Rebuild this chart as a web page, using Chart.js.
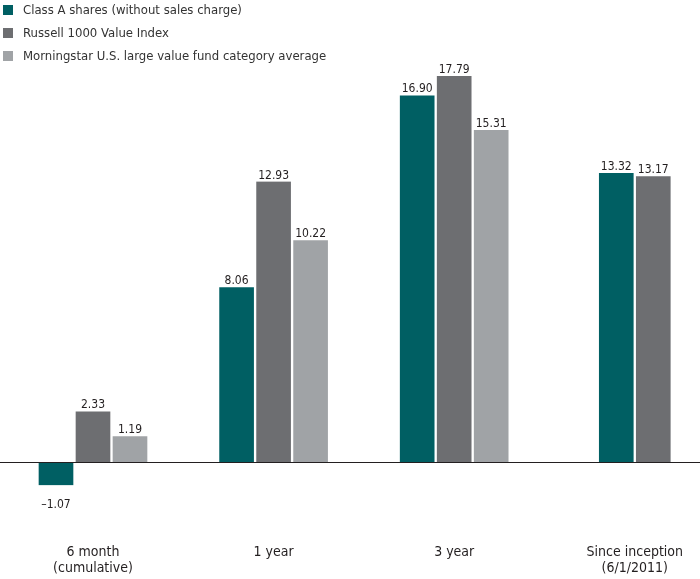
<!DOCTYPE html>
<html>
<head>
<meta charset="utf-8">
<script src="https://cdn.jsdelivr.net/npm/chart.js@4/dist/chart.umd.min.js"></script>
<style>
  html, body { margin: 0; padding: 0; background: #ffffff; }
  #wrap { width: 700px; height: 579px; position: relative; }
</style>
</head>
<body>
<div id="wrap"><canvas id="c" width="700" height="579"></canvas></div>
<script>
const categories = [["6 month", "(cumulative)"], "1 year", "3 year", ["Since inception", "(6/1/2011)"]];
const seriesNames = ["Class A shares (without sales charge)", "Russell 1000 Value Index", "Morningstar U.S. large value fund category average"];
const classA = [-1.07, 8.06, 16.90, 13.32];
const russell = [2.33, 12.93, 17.79, 13.17];
const morningstar = [1.19, 10.22, 15.31, null];
const colors = ["#005f63", "#6d6e71", "#a0a3a6"];

const FONT = "'DejaVu Sans Condensed', 'DejaVu Sans', sans-serif";
const TEXT = "#231f20";

function ds(i, data) {
  return {
    label: seriesNames[i],
    data: data,
    backgroundColor: colors[i],
    borderColor: "#ffffff",
    borderWidth: { left: 1.5, right: 1.5, top: 0, bottom: 0 },
    borderSkipped: false,
    clip: false
  };
}

const legendPlugin = {
  id: "customLegend",
  afterDraw(chart) {
    const ctx = chart.ctx;
    ctx.save();
    ctx.font = "13px " + FONT;
    ctx.textBaseline = "middle";
    ctx.textAlign = "left";
    chart.data.datasets.forEach((d, i) => {
      const y = 10 + i * 23;
      ctx.fillStyle = d.backgroundColor;
      ctx.fillRect(3, y - 5, 10, 10);
      ctx.fillStyle = "#333333";
      ctx.fillText(d.label, 23, y + 0.5);
    });
    ctx.restore();
  }
};

const valuePlugin = {
  id: "valueLabels",
  afterDatasetsDraw(chart) {
    const ctx = chart.ctx;
    const yScale = chart.scales.y;
    const zeroY = yScale.getPixelForValue(0);
    ctx.save();
    ctx.strokeStyle = TEXT;
    ctx.lineWidth = 1;
    ctx.beginPath();
    ctx.moveTo(0, Math.round(zeroY) + 0.5);
    ctx.lineTo(chart.width, Math.round(zeroY) + 0.5);
    ctx.stroke();
    ctx.font = "12px " + FONT;
    ctx.fillStyle = TEXT;
    ctx.textAlign = "center";
    ctx.textBaseline = "alphabetic";
    chart.data.datasets.forEach((d, di) => {
      const meta = chart.getDatasetMeta(di);
      meta.data.forEach((bar, idx) => {
        const v = d.data[idx];
        if (v === null || v === undefined) return;
        const txt = (v < 0 ? "\u2013" : "") + Math.abs(v).toFixed(2);
        if (v >= 0) {
          ctx.fillText(txt, bar.x, bar.y - 3);
        } else {
          ctx.fillText(txt, bar.x, bar.y + 23);
        }
      });
    });
    ctx.restore();
  }
};

new Chart(document.getElementById("c"), {
  type: "bar",
  data: {
    labels: categories,
    datasets: [ds(0, classA), ds(1, russell), ds(2, morningstar)]
  },
  options: {
    responsive: false,
    animation: false,
    skipNull: true,
    barThickness: 37,
    layout: { padding: { left: 93, right: 64, top: 0, bottom: 3 } },
    plugins: {
      legend: { display: false },
      tooltip: { enabled: false }
    },
    scales: {
      x: {
        offset: false,
        grid: { display: false, drawTicks: false },
        border: { display: false },
        afterFit(scale) { scale.height = 49; },
        ticks: {
          color: TEXT,
          padding: 17,
          maxRotation: 0,
          autoSkip: false,
          font: { family: FONT, size: 14, lineHeight: 1.15 }
        }
      },
      y: {
        display: false,
        min: -3,
        max: 21.3
      }
    }
  },
  plugins: [legendPlugin, valuePlugin]
});
</script>
</body>
</html>
